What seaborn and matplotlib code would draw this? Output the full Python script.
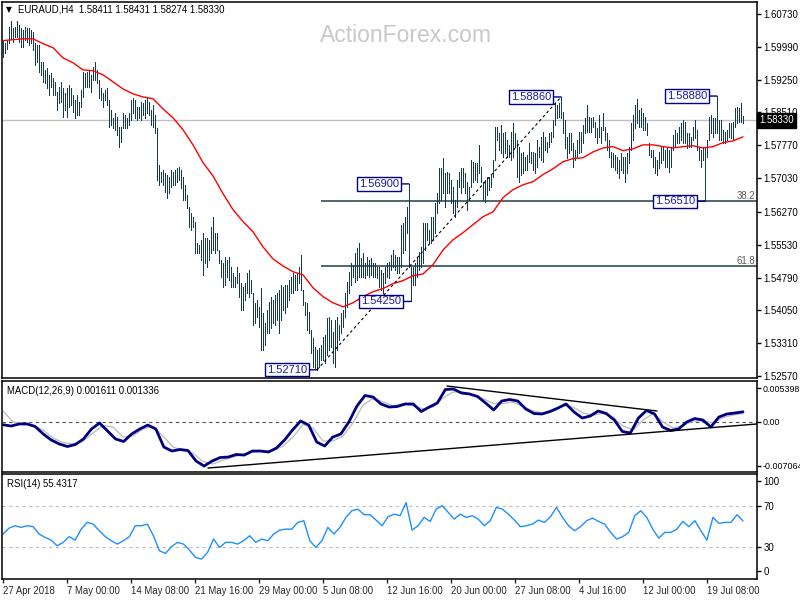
import numpy as np
import matplotlib
matplotlib.use("Agg")
import matplotlib.pyplot as plt
import matplotlib.transforms as mtrans
import seaborn as sns

sns.set_style("white")
plt.rcParams['font.family'] = ['Liberation Sans', 'DejaVu Sans']

# EURAUD H4 bars (one value per bar)
highs = [
    1.6015, 1.6008, 1.6015, 1.6044, 1.6058, 1.6042, 1.6044, 1.6058, 1.6049, 1.6042,
    1.6037, 1.6044, 1.6042, 1.6042, 1.6037, 1.6033, 1.6008, 1.6004, 1.6004, 1.5965,
    1.5965, 1.5947, 1.5952, 1.5936, 1.5940, 1.5929, 1.5920, 1.5898, 1.5909, 1.5920,
    1.5907, 1.5895, 1.5907, 1.5913, 1.5907, 1.5891, 1.5880, 1.5891, 1.5875, 1.5902,
    1.5943, 1.5940, 1.5943, 1.5947, 1.5936, 1.5954, 1.5965, 1.5947, 1.5925, 1.5907,
    1.5895, 1.5902, 1.5907, 1.5880, 1.5857, 1.5839, 1.5850, 1.5841, 1.5819, 1.5819,
    1.5850, 1.5846, 1.5839, 1.5850, 1.5880, 1.5884, 1.5880, 1.5864, 1.5864, 1.5875,
    1.5873, 1.5880, 1.5886, 1.5875, 1.5857, 1.5868, 1.5846, 1.5817, 1.5733, 1.5717,
    1.5722, 1.5715, 1.5711, 1.5706, 1.5722, 1.5717, 1.5722, 1.5726, 1.5729, 1.5722,
    1.5706, 1.5688, 1.5666, 1.5638, 1.5625, 1.5616, 1.5605, 1.5557, 1.5553, 1.5564,
    1.5580, 1.5569, 1.5569, 1.5564, 1.5593, 1.5616, 1.5580, 1.5580, 1.5541, 1.5519,
    1.5512, 1.5526, 1.5519, 1.5526, 1.5503, 1.5490, 1.5481, 1.5503, 1.5490, 1.5467,
    1.5458, 1.5467, 1.5490, 1.5496, 1.5474, 1.5445, 1.5422, 1.5429, 1.5413, 1.5456,
    1.5400, 1.5377, 1.5406, 1.5424, 1.5436, 1.5429, 1.5440, 1.5445, 1.5451, 1.5463,
    1.5458, 1.5463, 1.5463, 1.5474, 1.5481, 1.5490, 1.5485, 1.5490, 1.5503, 1.5530,
    1.5451, 1.5424, 1.5422, 1.5402, 1.5361, 1.5343, 1.5323, 1.5316, 1.5321, 1.5327,
    1.5345, 1.5350, 1.5388, 1.5390, 1.5384, 1.5357, 1.5384, 1.5390, 1.5372, 1.5400,
    1.5406, 1.5445, 1.5469, 1.5492, 1.5512, 1.5508, 1.5535, 1.5546, 1.5557, 1.5523,
    1.5535, 1.5512, 1.5526, 1.5519, 1.5523, 1.5512, 1.5512, 1.5503, 1.5503, 1.5496,
    1.5490, 1.5503, 1.5512, 1.5514, 1.5530, 1.5541, 1.5530, 1.5526, 1.5526, 1.5598,
    1.5602, 1.5616, 1.5638, 1.5690, 1.5503, 1.5503, 1.5512, 1.5526, 1.5537, 1.5548,
    1.5602, 1.5602, 1.5602, 1.5587, 1.5616, 1.5616, 1.5647, 1.5670, 1.5726, 1.5726,
    1.5749, 1.5715, 1.5717, 1.5715, 1.5699, 1.5683, 1.5654, 1.5699, 1.5717, 1.5726,
    1.5726, 1.5715, 1.5695, 1.5683, 1.5744, 1.5740, 1.5738, 1.5738, 1.5778, 1.5729,
    1.5695, 1.5699, 1.5706, 1.5706, 1.5711, 1.5744, 1.5819, 1.5819, 1.5805, 1.5823,
    1.5805, 1.5807, 1.5789, 1.5778, 1.5807, 1.5828, 1.5805, 1.5789, 1.5774, 1.5760,
    1.5762, 1.5751, 1.5756, 1.5783, 1.5762, 1.5762, 1.5760, 1.5789, 1.5774, 1.5796,
    1.5807, 1.5796, 1.5785, 1.5805, 1.5807, 1.5835, 1.5873, 1.5868, 1.5873, 1.5886,
    1.5853, 1.5835, 1.5796, 1.5805, 1.5805, 1.5783, 1.5767, 1.5789, 1.5807, 1.5807,
    1.5823, 1.5839, 1.5868, 1.5841, 1.5839, 1.5841, 1.5830, 1.5817, 1.5846, 1.5819,
    1.5850, 1.5819, 1.5805, 1.5789, 1.5762, 1.5760, 1.5756, 1.5751, 1.5744, 1.5760,
    1.5751, 1.5751, 1.5760, 1.5774, 1.5828, 1.5846, 1.5868, 1.5882, 1.5857, 1.5862,
    1.5850, 1.5841, 1.5828, 1.5783, 1.5767, 1.5767, 1.5751, 1.5744, 1.5762, 1.5774,
    1.5774, 1.5767, 1.5774, 1.5767, 1.5774, 1.5801, 1.5812, 1.5805, 1.5819, 1.5828,
    1.5835, 1.5830, 1.5805, 1.5805, 1.5796, 1.5819, 1.5835, 1.5812, 1.5774, 1.5767,
    1.5774, 1.5774, 1.5789, 1.5841, 1.5846, 1.5839, 1.5839, 1.5888, 1.5835, 1.5835,
    1.5812, 1.5807, 1.5812, 1.5828, 1.5828, 1.5830, 1.5862, 1.5864, 1.5862, 1.5873,
    1.5843,
]
lows = [
    1.5977, 1.5986, 1.5995, 1.6008, 1.6017, 1.6010, 1.6022, 1.6022, 1.6010, 1.5999,
    1.5999, 1.6015, 1.6010, 1.6004, 1.6008, 1.5992, 1.5958, 1.5965, 1.5943, 1.5936,
    1.5920, 1.5918, 1.5907, 1.5891, 1.5909, 1.5891, 1.5891, 1.5857, 1.5873, 1.5875,
    1.5841, 1.5857, 1.5841, 1.5864, 1.5868, 1.5853, 1.5839, 1.5846, 1.5846, 1.5864,
    1.5886, 1.5909, 1.5909, 1.5909, 1.5898, 1.5925, 1.5925, 1.5918, 1.5884, 1.5880,
    1.5864, 1.5880, 1.5868, 1.5819, 1.5823, 1.5817, 1.5812, 1.5801, 1.5774, 1.5785,
    1.5817, 1.5817, 1.5817, 1.5823, 1.5835, 1.5850, 1.5839, 1.5835, 1.5839, 1.5835,
    1.5846, 1.5839, 1.5850, 1.5846, 1.5823, 1.5819, 1.5805, 1.5699, 1.5688, 1.5695,
    1.5688, 1.5672, 1.5659, 1.5670, 1.5683, 1.5688, 1.5688, 1.5695, 1.5699, 1.5681,
    1.5654, 1.5654, 1.5636, 1.5593, 1.5587, 1.5593, 1.5535, 1.5535, 1.5535, 1.5519,
    1.5485, 1.5512, 1.5503, 1.5519, 1.5535, 1.5541, 1.5535, 1.5541, 1.5512, 1.5481,
    1.5458, 1.5463, 1.5481, 1.5474, 1.5458, 1.5458, 1.5458, 1.5467, 1.5436, 1.5406,
    1.5406, 1.5429, 1.5445, 1.5436, 1.5445, 1.5372, 1.5377, 1.5390, 1.5368, 1.5316,
    1.5316, 1.5327, 1.5354, 1.5354, 1.5366, 1.5377, 1.5372, 1.5384, 1.5354, 1.5384,
    1.5406, 1.5400, 1.5413, 1.5429, 1.5445, 1.5445, 1.5451, 1.5451, 1.5467, 1.5451,
    1.5418, 1.5395, 1.5361, 1.5354, 1.5309, 1.5278, 1.5276, 1.5271, 1.5278, 1.5294,
    1.5294, 1.5287, 1.5305, 1.5316, 1.5323, 1.5287, 1.5278, 1.5316, 1.5339, 1.5354,
    1.5368, 1.5390, 1.5413, 1.5445, 1.5463, 1.5481, 1.5469, 1.5474, 1.5481, 1.5481,
    1.5481, 1.5478, 1.5485, 1.5481, 1.5485, 1.5481, 1.5481, 1.5478, 1.5458, 1.5451,
    1.5445, 1.5467, 1.5481, 1.5478, 1.5496, 1.5503, 1.5496, 1.5490, 1.5490, 1.5503,
    1.5535, 1.5541, 1.5580, 1.5503, 1.5425, 1.5463, 1.5463, 1.5481, 1.5496, 1.5503,
    1.5512, 1.5541, 1.5564, 1.5557, 1.5557, 1.5564, 1.5580, 1.5625, 1.5647, 1.5654,
    1.5670, 1.5638, 1.5670, 1.5670, 1.5647, 1.5625, 1.5616, 1.5638, 1.5683, 1.5670,
    1.5683, 1.5670, 1.5632, 1.5654, 1.5683, 1.5695, 1.5699, 1.5695, 1.5715, 1.5695,
    1.5654, 1.5650, 1.5666, 1.5677, 1.5683, 1.5706, 1.5744, 1.5789, 1.5767, 1.5760,
    1.5751, 1.5760, 1.5751, 1.5751, 1.5744, 1.5751, 1.5774, 1.5706, 1.5695, 1.5711,
    1.5715, 1.5722, 1.5722, 1.5740, 1.5738, 1.5722, 1.5715, 1.5729, 1.5751, 1.5744,
    1.5740, 1.5767, 1.5762, 1.5774, 1.5785, 1.5796, 1.5823, 1.5839, 1.5841, 1.5839,
    1.5805, 1.5771, 1.5749, 1.5760, 1.5767, 1.5729, 1.5744, 1.5751, 1.5760, 1.5762,
    1.5783, 1.5805, 1.5807, 1.5807, 1.5807, 1.5819, 1.5796, 1.5783, 1.5796, 1.5783,
    1.5812, 1.5789, 1.5767, 1.5751, 1.5729, 1.5729, 1.5722, 1.5715, 1.5704, 1.5722,
    1.5715, 1.5695, 1.5715, 1.5738, 1.5767, 1.5789, 1.5817, 1.5828, 1.5819, 1.5819,
    1.5812, 1.5812, 1.5801, 1.5756, 1.5751, 1.5729, 1.5715, 1.5711, 1.5726, 1.5738,
    1.5744, 1.5729, 1.5729, 1.5717, 1.5729, 1.5767, 1.5774, 1.5783, 1.5783, 1.5789,
    1.5783, 1.5783, 1.5771, 1.5774, 1.5774, 1.5789, 1.5794, 1.5767, 1.5744, 1.5729,
    1.5744, 1.5651, 1.5751, 1.5789, 1.5805, 1.5796, 1.5805, 1.5805, 1.5789, 1.5789,
    1.5783, 1.5783, 1.5789, 1.5796, 1.5794, 1.5789, 1.5819, 1.5828, 1.5830, 1.5830,
    1.5827,
]

# moving average (red), one value every 5 bars
ma_vals = [
    1.6013, 1.6015, 1.6017, 1.6017, 1.6006, 1.5997, 1.5974, 1.5963, 1.5947, 1.5945,
    1.5936, 1.5920, 1.5904, 1.5893, 1.5886, 1.5882, 1.5859, 1.5839, 1.5812, 1.5778,
    1.5738, 1.5708, 1.5668, 1.5632, 1.5605, 1.5582, 1.5548, 1.5521, 1.5505, 1.5492,
    1.5485, 1.5456, 1.5436, 1.5422, 1.5413, 1.5422, 1.5436, 1.5447, 1.5454, 1.5465,
    1.5472, 1.5483, 1.5487, 1.5508, 1.5541, 1.5564, 1.5580, 1.5598, 1.5616, 1.5627,
    1.5659, 1.5677, 1.5688, 1.5695, 1.5711, 1.5724, 1.5740, 1.5747, 1.5749, 1.5762,
    1.5771, 1.5774, 1.5765, 1.5769, 1.5778, 1.5778, 1.5774, 1.5771, 1.5774, 1.5776,
    1.5771, 1.5774, 1.5783, 1.5787, 1.5796,
]

# MACD(12,26,9): main line about every 4 bars, signal every 5 bars
macd_main = [
    -0.00047, -0.00068, -0.00035, -0.00035, -0.00076, -0.00196, -0.00293, -0.00357,
    -0.00398, -0.00365, -0.00277, -0.00116, -0.00019, -0.00148, -0.00277, -0.00317,
    -0.00196, -0.00116, -0.00052, -0.00116, -0.00406, -0.00470, -0.00446, -0.00462,
    -0.00631, -0.00712, -0.00631, -0.00575, -0.00567, -0.00526, -0.00535, -0.00470,
    -0.00470, -0.00486, -0.00422, -0.00293, -0.00132, 0.00013, -0.00052, -0.00325,
    -0.00390, -0.00245, -0.00196, -0.00003, 0.00254, 0.00423, 0.00399, 0.00287,
    0.00238, 0.00246, 0.00287, 0.00287, 0.00166, 0.00238, 0.00303, 0.00520,
    0.00528, 0.00464, 0.00448, 0.00407, 0.00303, 0.00190, 0.00335, 0.00359,
    0.00335, 0.00206, 0.00134, 0.00126, 0.00166, 0.00222, 0.00287, 0.00158,
    0.00061, 0.00093, 0.00174, 0.00134, 0.00029, -0.00156, -0.00180, 0.00061,
    0.00182, 0.00126, -0.00084, -0.00140, -0.00116, -0.00003, 0.00053, 0.00029,
    -0.00084, 0.00077, 0.00126, 0.00142, 0.00161,
]
macd_signal = [
    0.00174, -0.00003, -0.00027, -0.00052, -0.00132, -0.00261, -0.00333, -0.00357,
    -0.00309, -0.00180, -0.00060, -0.00084, -0.00245, -0.00229, -0.00116, -0.00068,
    -0.00229, -0.00406, -0.00462, -0.00502, -0.00639, -0.00679, -0.00615, -0.00567,
    -0.00526, -0.00486, -0.00478, -0.00462, -0.00390, -0.00245, -0.00043, -0.00100,
    -0.00309, -0.00309, -0.00229, -0.00019, 0.00270, 0.00375, 0.00319, 0.00262,
    0.00287, 0.00262, 0.00206, 0.00238, 0.00383, 0.00480, 0.00480, 0.00440,
    0.00375, 0.00295, 0.00295, 0.00319, 0.00246, 0.00174, 0.00142, 0.00166,
    0.00262, 0.00238, 0.00142, 0.00109, 0.00134, 0.00077, -0.00068, -0.00132,
    0.00029, 0.00134, -0.00003, -0.00100, -0.00060, 0.00013, 0.00013, -0.00019,
    0.00069, 0.00109, 0.00134,
]

# RSI(14), one value every 3 bars
rsi_vals = [
    42.8, 48.5, 50.8, 49.2, 50.8, 49.9, 42.8, 39.6, 37.0, 31.6,
    34.8, 40.3, 37.0, 47.5, 54.0, 52.3, 46.0, 40.3, 36.4, 33.2,
    36.4, 40.3, 50.8, 50.8, 52.3, 41.2, 26.8, 24.2, 30.7, 34.8,
    33.2, 27.4, 20.4, 18.8, 25.2, 38.0, 30.0, 34.8, 34.8, 33.2,
    36.4, 41.2, 34.8, 38.0, 36.4, 42.8, 46.6, 47.5, 47.5, 54.0,
    55.6, 36.4, 30.0, 36.4, 49.2, 42.8, 49.2, 58.8, 65.2, 66.7,
    61.4, 61.4, 56.2, 50.8, 59.4, 61.9, 60.4, 73.0, 46.6, 50.8,
    58.8, 54.9, 66.7, 70.0, 63.6, 57.1, 61.9, 58.8, 60.4, 57.1,
    50.8, 55.6, 68.4, 66.7, 61.9, 56.2, 49.9, 50.8, 52.3, 56.2,
    54.0, 59.4, 68.4, 58.8, 50.8, 46.0, 49.9, 55.6, 58.1, 54.9,
    52.3, 44.4, 38.0, 40.3, 44.4, 60.4, 65.2, 58.8, 47.5, 38.9,
    44.4, 44.4, 47.5, 54.9, 49.9, 55.6, 46.0, 37.0, 58.8, 53.0,
    54.0, 54.0, 61.4, 55.4,
]

last_ohlc = ["1.58411", "1.58431", "1.58274", "1.58330"]
macd_header = ["0.001611", "0.001336"]
rsi_header = "55.4317"

price_ticks = [1.60730, 1.59990, 1.59250, 1.58510, 1.57770, 1.57030,
               1.56270, 1.55530, 1.54790, 1.54050, 1.53310, 1.52570]
time_labels = ["27 Apr 2018", "7 May 00:00", "14 May 08:00", "21 May 16:00",
               "29 May 00:00", "5 Jun 08:00", "12 Jun 16:00", "20 Jun 00:00",
               "27 Jun 08:00", "4 Jul 16:00", "12 Jul 00:00", "19 Jul 08:00"]

n = len(highs)
bars = np.arange(n)
time_ticks = np.arange(len(time_labels)) * 32   # 32 H4 bars between labels

W, H = 800, 600
fig = plt.figure(figsize=(8, 6), dpi=100)
ax_p = fig.add_axes([2 / W, 1 - 378 / H, 755 / W, 376 / H])
ax_m = fig.add_axes([2 / W, 1 - 472 / H, 755 / W, 91 / H])
ax_r = fig.add_axes([2 / W, 1 - 579 / H, 755 / W, 105 / H])

navy = '#000080'
bar_col = '#123a58'
lbl_font = 6.9

for ax in (ax_p, ax_m, ax_r):
    ax.set_xlim(-0.5, 377)
    for s in ax.spines.values():
        s.set_color('black')
        s.set_linewidth(1.1)
    ax.yaxis.tick_right()
    ax.tick_params(axis='y', length=3, width=1, pad=1.5, labelsize=lbl_font,
                   colors='black', direction='out')
    ax.tick_params(axis='x', bottom=False, labelbottom=False)

# ---------- price panel ----------
close = float(last_ohlc[3])
ax_p.axhline(close, color='#c0c0c0', lw=1)

lo_i = int(np.argmin(lows))
hi_i = int(np.argmax(highs[lo_i:lo_i + 130])) + lo_i
swing_lo, swing_hi = lows[lo_i], highs[hi_i]
for f in (0.382, 0.618):
    lvl = swing_hi - f * (swing_hi - swing_lo)
    ax_p.hlines(lvl, lo_i + 2, 377, color='#2f4f4f', lw=1.2)
    ax_p.text(376, lvl, '%.1f' % (f * 100), ha='right', va='bottom',
              fontsize=lbl_font, color='#5a5a50')

ax_p.vlines(bars, lows, highs, color=bar_col, lw=0.72, antialiased=False)
sns.lineplot(x=np.linspace(0, n - 1, len(ma_vals)), y=ma_vals, ax=ax_p,
             color='red', lw=1.0)

ax_p.plot([lo_i, hi_i], [swing_lo, swing_hi], color='black', lw=0.8,
          ls=(0, (2.5, 2.5)))

# swing labels: (text, bar, price)
swing_labels = [
    ("1.52710", lo_i, swing_lo),
    ("1.58860", hi_i, swing_hi),
    ("1.56900", 203, highs[203]),
    ("1.54250", 204, lows[204]),
    ("1.58880", 357, highs[357]),
    ("1.56510", 351, lows[351]),
]
for txt, b, p in swing_labels:
    ax_p.annotate(txt, xy=(b, p), xytext=(-10, 0), textcoords='offset pixels',
                  ha='right', va='center', fontsize=8, color='#1a1aa0',
                  bbox=dict(boxstyle='square,pad=0.15', fc='white', ec=navy, lw=1),
                  arrowprops=dict(arrowstyle='-', color=navy, lw=1,
                                  shrinkA=0, shrinkB=0))

ax_p.set_ylim(1.52525, 1.6100)
ax_p.set_yticks(price_ticks)
ax_p.set_yticklabels(['%.5f' % t for t in price_ticks])
trans = mtrans.blended_transform_factory(ax_p.transAxes, ax_p.transData)
ax_p.text(1.003, close, last_ohlc[3], transform=trans, ha='left', va='center',
          fontsize=lbl_font, color='white', zorder=10,
          bbox=dict(boxstyle='square,pad=0.25', fc='black', ec='black'))

fig.text(406 / W, 1 - 36 / H, 'ActionForex.com', fontsize=16.5,
         color='#c8c8c8', ha='center', va='center')
fig.text(6 / W, 1 - 10 / H, '\u25bc', fontsize=5.5, color='black',
         ha='left', va='center', family=['DejaVu Sans'])
fig.text(18 / W, 1 - 10 / H, 'EURAUD,H4  ' + ' '.join(last_ohlc),
         fontsize=lbl_font, color='black', ha='left', va='center')

# ---------- MACD panel ----------
ax_m.axhline(0, color='#505050', lw=0.8, ls=(0, (3, 3)))
sns.lineplot(x=np.linspace(0, n - 1, len(macd_signal)), y=macd_signal, ax=ax_m,
             color='#c0c0c0', lw=1.0)
sns.lineplot(x=np.linspace(0, n - 1, len(macd_main)), y=macd_main, ax=ax_m,
             color=navy, lw=2.0)
ax_m.plot([102.5, 377], [-0.00744, -0.00035], color='black', lw=1)
ax_m.plot([222, 327], [0.00576, 0.00174], color='black', lw=1)
ax_m.set_ylim(-0.00808, 0.00657)
macd_ticks = [0.005398, 0.0, -0.007064]
ax_m.set_yticks(macd_ticks)
ax_m.set_yticklabels(['0.005398', '0.00', '-0.007064'])
ax_m.tick_params(axis='y', labelsize=6.4, pad=1)
fig.text(7 / W, 1 - 391 / H, 'MACD(12,26,9) ' + ' '.join(macd_header),
         fontsize=lbl_font, color='black', ha='left', va='center')

# ---------- RSI panel ----------
for lv in (70, 30):
    ax_r.axhline(lv, color='#c0c0c0', lw=0.8, ls=(0, (3, 3)))
sns.lineplot(x=np.linspace(0, n - 1, len(rsi_vals)), y=rsi_vals, ax=ax_r,
             color='#1e90ff', lw=1.0)
ax_r.set_ylim(-0.3, 100.4)
ax_r.set_yticks([94, 70, 30, 7])
ax_r.set_yticklabels(['100', '70', '30', '0'])
fig.text(7 / W, 1 - 484 / H, 'RSI(14) ' + rsi_header,
         fontsize=lbl_font, color='black', ha='left', va='center')

ax_r.tick_params(axis='x', bottom=True, labelbottom=True, length=3, width=1,
                 pad=2, labelsize=lbl_font, direction='out')
ax_r.set_xticks(time_ticks)
ax_r.set_xticklabels(time_labels, ha='left')

for ax in (ax_p, ax_m, ax_r):
    ax.set_xlabel('')
    ax.set_ylabel('')

fig.savefig('out.png', dpi=100)
